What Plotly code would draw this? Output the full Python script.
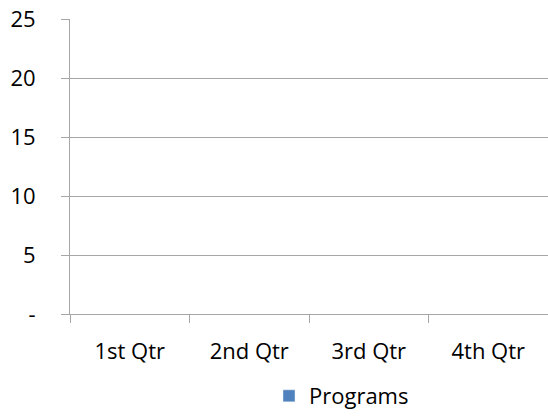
import plotly.graph_objects as go

categories = ["1st Qtr", "2nd Qtr", "3rd Qtr", "4th Qtr"]
programs = [None, None, None, None]
y_ticks = [0, 5, 10, 15, 20, 25]
y_tick_text = ["-", "5", "10", "15", "20", "25"]

W, H = 548, 417
ml, mr, mt, mb = 70, 0, 19, 98

fig = go.Figure()
fig.add_trace(go.Bar(x=categories, y=programs, name="Programs",
                     marker=dict(color="#4F81BD")))

font = dict(family="Open Sans, sans-serif", size=22, color="#000000")
line_col = "#A6A6A6"
fig.update_layout(
    width=W, height=H,
    margin=dict(l=ml, r=mr, t=mt, b=mb),
    paper_bgcolor="white", plot_bgcolor="white",
    font=font,
    showlegend=True,
    legend=dict(orientation="h", x=(269 - ml) / (W - ml - mr), xanchor="left",
                y=(319 - 403) / 300, yanchor="middle", font=font, itemwidth=30),
    xaxis=dict(showline=True, linecolor=line_col, linewidth=1,
               ticks="outside", ticklen=8, tickcolor=line_col,
               tickson="boundaries", showgrid=False, ticklabelstandoff=18),
    yaxis=dict(range=[0, 25], tickvals=y_ticks, ticktext=y_tick_text,
               showline=True, linecolor=line_col, linewidth=1,
               ticks="outside", ticklen=8, tickcolor=line_col,
               showgrid=True, gridcolor=line_col, gridwidth=1,
               zeroline=False, ticklabelstandoff=21),
)
fig.write_html("out.html")
